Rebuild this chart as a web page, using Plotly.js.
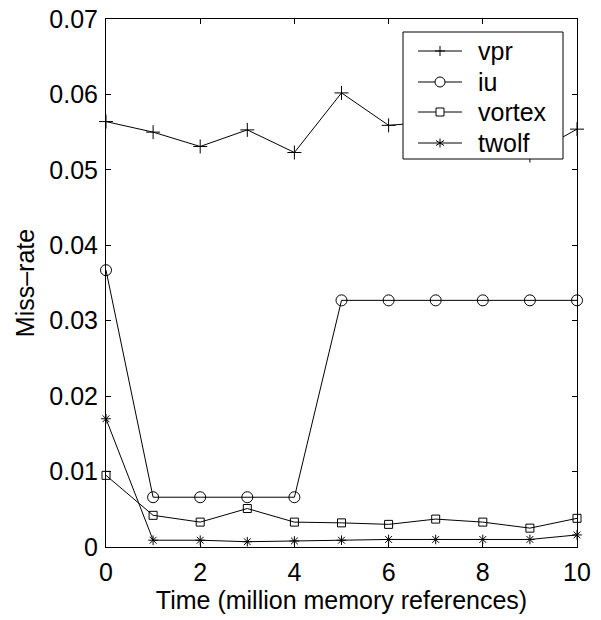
<!DOCTYPE html>
<html><head><meta charset="utf-8">
<script src="https://cdn.plot.ly/plotly-3.0.1.min.js"></script>
<style>html,body{margin:0;padding:0;background:#fff}#chart{width:601px;height:620px}</style>
</head><body><div id="chart"></div>
<script>
var timeSteps = [0,1,2,3,4,5,6,7,8,9,10];
var vprRate    = [0.0564,0.0550,0.0531,0.0553,0.0523,0.0602,0.0559,0.0564,0.0545,0.0519,0.0554];
var iuRate     = [0.0367,0.0066,0.0066,0.0066,0.0066,0.0327,0.0327,0.0327,0.0327,0.0327,0.0327];
var vortexRate = [0.0095,0.0042,0.0033,0.0051,0.0033,0.0032,0.0030,0.0037,0.0033,0.0025,0.0038];
var twolfRate  = [0.0170,0.0009,0.0009,0.0007,0.0008,0.0009,0.0010,0.0010,0.0010,0.0010,0.0016];
var seriesNames = ['vpr','iu','vortex','twolf'];
var xTicks = [0,2,4,6,8,10];
var yTicks = [0,0.01,0.02,0.03,0.04,0.05,0.06,0.07];
var yTickText = ['0','0.01','0.02','0.03','0.04','0.05','0.06','0.07'];

var FAM = 'Liberation Sans, Arial, Helvetica, sans-serif';
var font = {family:FAM, size:25, color:'#000'};
function tr(name, y, sym, size){
  return {x:timeSteps, y:y, name:name, type:'scatter', mode:'lines+markers', cliponaxis:false,
    showlegend:false, hoverinfo:'skip',
    line:{color:'#000', width:1},
    marker:{symbol:sym, size:size, color:'#000', line:{color:'#000', width:1}}};
}
var data = [
  tr(seriesNames[0], vprRate, 'cross-thin-open', 10),
  tr(seriesNames[1], iuRate, 'circle-open', 11),
  tr(seriesNames[2], vortexRate, 'square-open', 8),
  tr(seriesNames[3], twolfRate, 'asterisk-open', 8)
];

// ---- hand-built legend (pixel coordinates via overlay axes) ----
var L = {x0:403, x1:563, y0:32, y1:159, lineX0:418, lineX1:462, textX:476, rows:[51,82,112,143]};
var shapes = [], annotations = [];
function seg(xa,ya,xb,yb){ shapes.push({type:'line', xref:'x2', yref:'y2', x0:xa, y0:ya, x1:xb, y1:yb,
  layer:'above', line:{color:'#000', width:1}}); }
shapes.push({type:'rect', xref:'x2', yref:'y2', x0:L.x0, y0:L.y0, x1:L.x1, y1:L.y1, layer:'above',
  fillcolor:'#fff', line:{color:'#000', width:1}});
var mx = (L.lineX0 + L.lineX1)/2;
seriesNames.forEach(function(n,i){
  var y = L.rows[i];
  seg(L.lineX0, y, L.lineX1, y);
  if(i===0){ seg(mx-5,y,mx+5,y); seg(mx,y-5,mx,y+5); }
  if(i===1){ shapes.push({type:'circle', xref:'x2', yref:'y2', x0:mx-5, x1:mx+5, y0:y-5, y1:y+5,
    layer:'above', fillcolor:'#fff', line:{color:'#000', width:1}}); }
  if(i===2){ shapes.push({type:'rect', xref:'x2', yref:'y2', x0:mx-4, x1:mx+4, y0:y-4, y1:y+4,
    layer:'above', fillcolor:'#fff', line:{color:'#000', width:1}}); }
  if(i===3){ seg(mx,y-4.5,mx,y+4.5); seg(mx-4,y-2.5,mx+4,y+2.5); seg(mx-4,y+2.5,mx+4,y-2.5); }
  annotations.push({xref:'x2', yref:'y2', x:L.textX, y:y, text:n, showarrow:false,
    xanchor:'left', yanchor:'middle', font:font});
});

var layout = {
  width:601, height:620,
  margin:{l:106, r:24, t:19, b:73},
  paper_bgcolor:'#fff', plot_bgcolor:'#fff',
  font:font,
  showlegend:false,
  shapes:shapes, annotations:annotations,
  xaxis:{range:[0,10], tickvals:xTicks, ticktext:xTicks.map(String), ticks:'inside', ticklen:5,
    tickcolor:'#000', showline:true, linecolor:'#000', linewidth:1, mirror:'ticks', showgrid:false,
    zeroline:false, tickfont:font, ticklabelstandoff:3,
    title:{text:'Time (million memory references)', font:font, standoff:3}},
  yaxis:{range:[0,0.07], tickvals:yTicks, ticktext:yTickText, ticks:'inside', ticklen:5,
    tickcolor:'#000', showline:true, linecolor:'#000', linewidth:1, mirror:'ticks', showgrid:false,
    zeroline:false, tickfont:font, ticklabelstandoff:2,
    title:{text:'Miss\u2013rate', font:font, standoff:7}},
  xaxis2:{overlaying:'x', range:[106,577], visible:false, fixedrange:true},
  yaxis2:{overlaying:'y', range:[547,19], visible:false, fixedrange:true}
};
Plotly.newPlot('chart', data, layout, {displayModeBar:false, staticPlot:true});
</script></body></html>
